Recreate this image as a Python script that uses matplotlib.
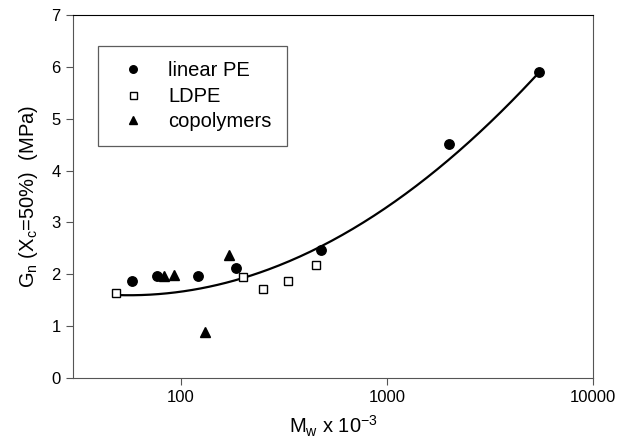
import numpy as np
import matplotlib
matplotlib.use("Agg")
import matplotlib.pyplot as plt
from matplotlib.ticker import FixedLocator, NullLocator, FixedFormatter

plt.rcParams["font.family"] = ["Liberation Sans", "DejaVu Sans"]
plt.rcParams["mathtext.fontset"] = "custom"
plt.rcParams["mathtext.rm"] = "Liberation Sans"

# Mw x 10^-3 and plateau modulus Gn at 50 % crystallinity (MPa)
linear_mw = [57.8, 76.4, 121, 185, 478, 2000, 5480]
linear_gn = [1.88, 1.97, 1.97, 2.12, 2.47, 4.51, 5.90]

ldpe_mw = [48.5, 201, 250, 332, 452]
ldpe_gn = [1.63, 1.94, 1.72, 1.88, 2.18]

copo_mw = [82.3, 92.5, 131.6, 171]
copo_gn = [1.97, 1.98, 0.88, 2.37]

# trend line: Gn = c0 + c1*log10(Mw) + c2*log10(Mw)^2
trend_coef = [4.903, -3.785, 1.083]
trend_range = [48.5, 5340]

x_ticks = [100, 1000, 10000]
y_ticks = [0, 1, 2, 3, 4, 5, 6, 7]

fig = plt.figure(figsize=(6.19, 4.42), dpi=100)
ax = fig.add_axes([0.1184, 0.1448, 0.9575 - 0.1184, 0.966 - 0.1448])

u = np.linspace(np.log10(trend_range[0]), np.log10(trend_range[1]), 200)
g = trend_coef[0] + trend_coef[1] * u + trend_coef[2] * u ** 2
ax.plot(10 ** u, g, color="black", lw=1.6, zorder=2)

ax.plot(linear_mw, linear_gn, "o", color="black", ms=6.8, ls="none",
        label="linear PE", zorder=3)
ax.plot(ldpe_mw, ldpe_gn, "s", mfc="white", mec="black", mew=1.0, ms=6.3,
        ls="none", label="LDPE", zorder=4)
ax.plot(copo_mw, copo_gn, "^", color="black", ms=7.5, ls="none",
        label="copolymers", zorder=3)

ax.set_xscale("log")
ax.set_xlim(30, 10000)
ax.set_ylim(0, 7)
ax.xaxis.set_major_locator(FixedLocator(x_ticks))
ax.xaxis.set_major_formatter(FixedFormatter([str(t) for t in x_ticks]))
ax.xaxis.set_minor_locator(NullLocator())
ax.set_yticks(y_ticks)

ax.tick_params(direction="out", length=5, width=0.8, color="#555555",
               labelsize=12, pad=4)
for side in ["left", "bottom", "right"]:
    ax.spines[side].set_color("#555555")
ax.spines["top"].set_color("black")

ax.set_xlabel(r"M$_\mathregular{w}$ x 10$^\mathregular{-3}$", fontsize=14.5,
              labelpad=6)
ax.set_ylabel(r"G$_\mathregular{n}$ (X$_\mathregular{c}$=50%)  (MPa)",
              fontsize=14.5, labelpad=8)

leg = ax.legend(loc="upper left", bbox_to_anchor=(0.0476, 0.9146),
                borderaxespad=0, fontsize=14.5, markerscale=0.8,
                frameon=True, fancybox=False, handlelength=2.0,
                handletextpad=0.75, borderpad=0.75, labelspacing=0.32)
leg.get_frame().set_edgecolor("#333333")
leg.get_frame().set_linewidth(0.9)

fig.savefig("out.png", dpi=100)
